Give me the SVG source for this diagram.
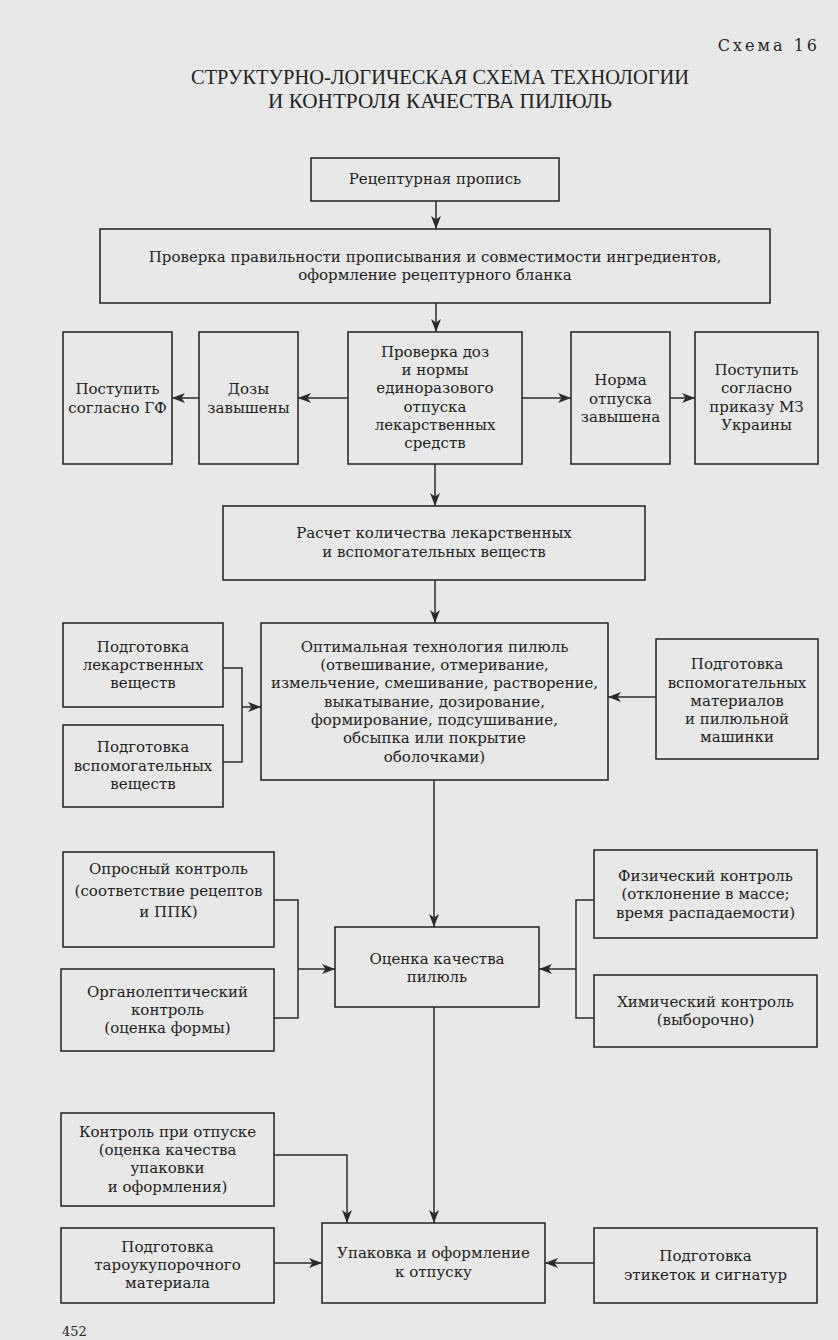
<svg xmlns="http://www.w3.org/2000/svg" width="838" height="1340" viewBox="0 0 838 1340">
<style>
.bg{fill:#e8e8e8}
.box{fill:none;stroke:#2b2b2b;stroke-width:1.6}
.ln{fill:none;stroke:#2b2b2b;stroke-width:1.5}
.t{font-family:"DejaVu Serif","Liberation Serif",serif;font-size:15px;fill:#222222;text-anchor:middle}
.title{font-family:"Liberation Serif",serif;font-size:21px;fill:#222222;text-anchor:middle}
.hdr{font-family:"DejaVu Serif","Liberation Serif",serif;font-size:16px;fill:#262626;letter-spacing:3px;text-anchor:end}
</style>
<defs>
<marker id="ah" viewBox="0 0 13 10" refX="13" refY="5" markerWidth="13" markerHeight="10" markerUnits="userSpaceOnUse" orient="auto">
<path d="M0,0 L13,5 L0,10 L3.5,5 z" fill="#2b2b2b"/>
</marker>
</defs>
<rect class="bg" x="0" y="0" width="838" height="1340"/>
<text class="hdr" x="820" y="51">Схема 16</text>
<text class="title" x="440" y="84" textLength="498" lengthAdjust="spacingAndGlyphs">СТРУКТУРНО-ЛОГИЧЕСКАЯ СХЕМА ТЕХНОЛОГИИ</text>
<text class="title" x="440" y="108" textLength="344" lengthAdjust="spacingAndGlyphs">И КОНТРОЛЯ КАЧЕСТВА ПИЛЮЛЬ</text>

<g id="n1"><rect class="box" x="311" y="158" width="248" height="43"/><text class="t" x="435" y="184">Рецептурная пропись</text></g>
<g id="n2"><rect class="box" x="100" y="229" width="670" height="74"/><text class="t" x="435" y="262">Проверка правильности прописывания и совместимости ингредиентов,</text><text class="t" x="435" y="280">оформление рецептурного бланка</text></g>
<g id="n3"><rect class="box" x="63" y="332" width="109" height="132"/><text class="t" x="117.5" y="394">Поступить</text><text class="t" x="117.5" y="413">согласно ГФ</text></g>
<g id="n4"><rect class="box" x="199" y="332" width="99" height="132"/><text class="t" x="248.5" y="394">Дозы</text><text class="t" x="248.5" y="413">завышены</text></g>
<g id="n5"><rect class="box" x="348" y="332" width="174" height="132"/><text class="t" x="435" y="357">Проверка доз</text><text class="t" x="435" y="375">и нормы</text><text class="t" x="435" y="393">единоразового</text><text class="t" x="435" y="412">отпуска</text><text class="t" x="435" y="430">лекарственных</text><text class="t" x="435" y="448">средств</text></g>
<g id="n6"><rect class="box" x="571" y="332" width="99" height="132"/><text class="t" x="620.5" y="385">Норма</text><text class="t" x="620.5" y="404">отпуска</text><text class="t" x="620.5" y="422">завышена</text></g>
<g id="n7"><rect class="box" x="695" y="332" width="123" height="132"/><text class="t" x="756.5" y="375">Поступить</text><text class="t" x="756.5" y="393">согласно</text><text class="t" x="756.5" y="412">приказу МЗ</text><text class="t" x="756.5" y="430">Украины</text></g>
<g id="n8"><rect class="box" x="223" y="506" width="422" height="74"/><text class="t" x="434" y="538">Расчет количества лекарственных</text><text class="t" x="434" y="557">и вспомогательных веществ</text></g>
<g id="n9"><rect class="box" x="63" y="623" width="160" height="84"/><text class="t" x="143" y="652">Подготовка</text><text class="t" x="143" y="670">лекарственных</text><text class="t" x="143" y="688">веществ</text></g>
<g id="n10"><rect class="box" x="63" y="725" width="160" height="82"/><text class="t" x="143" y="752">Подготовка</text><text class="t" x="143" y="771">вспомогательных</text><text class="t" x="143" y="789">веществ</text></g>
<g id="n11"><rect class="box" x="261" y="623" width="347" height="157"/><text class="t" x="434.5" y="652">Оптимальная технология пилюль</text><text class="t" x="434.5" y="670">(отвешивание, отмеривание,</text><text class="t" x="434.5" y="688">измельчение, смешивание, растворение,</text><text class="t" x="434.5" y="707">выкатывание, дозирование,</text><text class="t" x="434.5" y="725">формирование, подсушивание,</text><text class="t" x="434.5" y="743">обсыпка или покрытие</text><text class="t" x="434.5" y="762">оболочками)</text></g>
<g id="n12"><rect class="box" x="656" y="639" width="162" height="120"/><text class="t" x="737" y="669">Подготовка</text><text class="t" x="737" y="688">вспомогательных</text><text class="t" x="737" y="706">материалов</text><text class="t" x="737" y="724">и пилюльной</text><text class="t" x="737" y="742">машинки</text></g>
<g id="n13"><rect class="box" x="63" y="852" width="211" height="95"/><text class="t" x="168.5" y="874">Опросный контроль</text><text class="t" x="168.5" y="896">(соответствие рецептов</text><text class="t" x="168.5" y="917">и ППК)</text></g>
<g id="n14"><rect class="box" x="594" y="850" width="223" height="88"/><text class="t" x="705.5" y="881">Физический контроль</text><text class="t" x="705.5" y="899">(отклонение в массе;</text><text class="t" x="705.5" y="918">время распадаемости)</text></g>
<g id="n15"><rect class="box" x="335" y="927" width="204" height="80"/><text class="t" x="437" y="964">Оценка качества</text><text class="t" x="437" y="982">пилюль</text></g>
<g id="n16"><rect class="box" x="61" y="969" width="213" height="82"/><text class="t" x="167.5" y="997">Органолептический</text><text class="t" x="167.5" y="1015">контроль</text><text class="t" x="167.5" y="1033">(оценка формы)</text></g>
<g id="n17"><rect class="box" x="594" y="975" width="223" height="72"/><text class="t" x="705.5" y="1007">Химический контроль</text><text class="t" x="705.5" y="1025">(выборочно)</text></g>
<g id="n18"><rect class="box" x="61" y="1113" width="213" height="93"/><text class="t" x="167.5" y="1137">Контроль при отпуске</text><text class="t" x="167.5" y="1155">(оценка качества</text><text class="t" x="167.5" y="1173">упаковки</text><text class="t" x="167.5" y="1192">и оформления)</text></g>
<g id="n19"><rect class="box" x="61" y="1228" width="213" height="75"/><text class="t" x="167.5" y="1252">Подготовка</text><text class="t" x="167.5" y="1270">тароукупорочного</text><text class="t" x="167.5" y="1288">материала</text></g>
<g id="n20"><rect class="box" x="322" y="1223" width="223" height="80"/><text class="t" x="433.5" y="1258">Упаковка и оформление</text><text class="t" x="433.5" y="1277">к отпуску</text></g>
<g id="n21"><rect class="box" x="594" y="1228" width="223" height="75"/><text class="t" x="705.5" y="1261">Подготовка</text><text class="t" x="705.5" y="1280">этикеток и сигнатур</text></g>

<g id="connectors">
<line class="ln" x1="436" y1="201" x2="436" y2="229" marker-end="url(#ah)"/>
<line class="ln" x1="436" y1="303" x2="436" y2="332" marker-end="url(#ah)"/>
<line class="ln" x1="348" y1="398" x2="298" y2="398" marker-end="url(#ah)"/>
<line class="ln" x1="199" y1="398" x2="172" y2="398" marker-end="url(#ah)"/>
<line class="ln" x1="522" y1="398" x2="571" y2="398" marker-end="url(#ah)"/>
<line class="ln" x1="670" y1="398" x2="695" y2="398" marker-end="url(#ah)"/>
<line class="ln" x1="435" y1="464" x2="435" y2="506" marker-end="url(#ah)"/>
<line class="ln" x1="435" y1="580" x2="435" y2="623" marker-end="url(#ah)"/>
<polyline class="ln" points="223,668 242,668 242,762 223,762"/>
<line class="ln" x1="242" y1="707" x2="261" y2="707" marker-end="url(#ah)"/>
<line class="ln" x1="656" y1="697" x2="608" y2="697" marker-end="url(#ah)"/>
<line class="ln" x1="434" y1="780" x2="434" y2="927" marker-end="url(#ah)"/>
<polyline class="ln" points="274,900 298,900 298,1018 274,1018"/>
<line class="ln" x1="298" y1="969" x2="335" y2="969" marker-end="url(#ah)"/>
<polyline class="ln" points="594,900 576,900 576,1018 594,1018"/>
<line class="ln" x1="576" y1="969" x2="539" y2="969" marker-end="url(#ah)"/>
<line class="ln" x1="434" y1="1007" x2="434" y2="1223" marker-end="url(#ah)"/>
<polyline class="ln" points="274,1155 347,1155 347,1223" marker-end="url(#ah)"/>
<line class="ln" x1="274" y1="1263" x2="322" y2="1263" marker-end="url(#ah)"/>
<line class="ln" x1="594" y1="1263" x2="545" y2="1263" marker-end="url(#ah)"/>
</g>
<text x="62" y="1336" style="font-family:'DejaVu Serif',serif;font-size:13px;fill:#262626">452</text>
</svg>
